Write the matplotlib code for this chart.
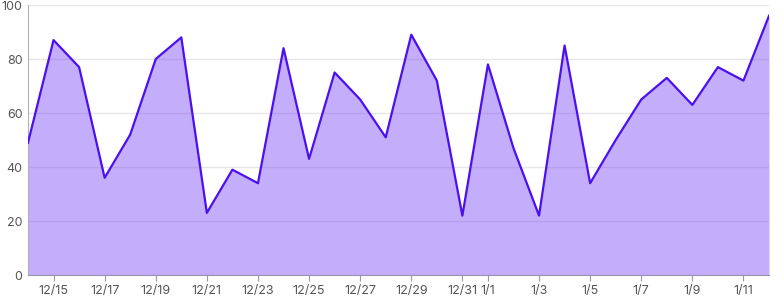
import matplotlib
matplotlib.use("Agg")
from matplotlib import pyplot as plt
import pandas as pd

plt.rcParams['font.family'] = ['Inter', 'DejaVu Sans']

start_date = "2023-12-14"
values = [49, 87, 77, 36, 52, 80, 88, 23, 39, 34,
          84, 43, 75, 65, 51, 89, 72, 22, 78, 47,
          22, 85, 34, 50, 65, 73, 63, 77, 72, 96]
y_ticks = [0, 20, 40, 60, 80, 100]

dates = pd.date_range(start_date, periods=len(values))
x = list(range(len(values)))

fig = plt.figure(figsize=(7.84, 3.0), dpi=100)
ax = fig.add_axes([28/784, 25/300, 741/784, 270/300])

ax.fill_between(x, values, 0, color='#8b5cf6', alpha=0.5, linewidth=0, zorder=2)
ax.plot(x, values, color='#4a10ef', linewidth=1.6, zorder=3)

ax.set_xlim(0, len(values) - 1)
ax.set_ylim(0, 100)
ax.set_yticks(y_ticks)
ax.set_yticklabels([str(v) for v in y_ticks])

# label every odd day of the month (12/31 and 1/1 both show)
tick_pos = [i for i in x if dates[i].day % 2 == 1]
ax.set_xticks(tick_pos)
ax.set_xticklabels([f"{dates[i].month}/{dates[i].day}" for i in tick_pos])

ax.grid(axis='y', color='#e6e6e6', linewidth=1, zorder=1)
ax.set_axisbelow(True)
for s in ['top', 'right']:
    ax.spines[s].set_visible(False)
ax.spines['left'].set_color('#b0b0b8')
ax.spines['bottom'].set_color('#9a94b0')
ax.tick_params(axis='y', length=0, pad=4, labelsize=9, labelcolor='#555555')
ax.tick_params(axis='x', length=4, color='#9a94b0', pad=3, labelsize=9, labelcolor='#555555')

fig.savefig("out.png", dpi=100)
